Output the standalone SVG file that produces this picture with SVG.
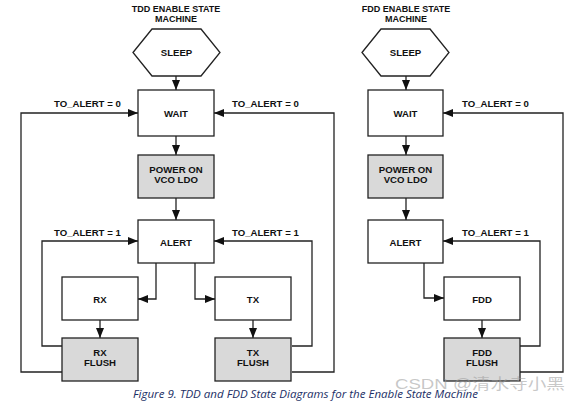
<svg xmlns="http://www.w3.org/2000/svg" width="581" height="405" viewBox="0 0 581 405">
<style>
.b{fill:#fff;stroke:#222;stroke-width:1.3}
.g{fill:#d9d9d9;stroke:#222;stroke-width:1.3}
.t{font-family:"Liberation Sans",Arial,sans-serif;font-weight:bold;font-size:9.6px;fill:#111;text-anchor:middle}
.h{font-family:"Liberation Sans",Arial,sans-serif;font-weight:bold;font-size:9px;fill:#111;text-anchor:middle}
.l{font-family:"Liberation Sans",Arial,sans-serif;font-weight:bold;font-size:9.6px;fill:#111}
.c{fill:none;stroke:#222;stroke-width:1.3}
</style>
<defs>
<marker id="a" viewBox="0 0 10 8" refX="10" refY="4" markerWidth="10" markerHeight="8" markerUnits="userSpaceOnUse" orient="auto">
<path d="M0,0L10,4L0,8z" fill="#111"/>
</marker>
</defs>
<text class="h" x="176" y="12">TDD ENABLE STATE</text>
<text class="h" x="176" y="21.5">MACHINE</text>
<text class="h" x="406" y="12">FDD ENABLE STATE</text>
<text class="h" x="406" y="21.5">MACHINE</text>
<g id="connectors">
<path class="c" d="M176,76V90" marker-end="url(#a)"/>
<path class="c" d="M176,136V155" marker-end="url(#a)"/>
<path class="c" d="M176,198V220" marker-end="url(#a)"/>
<path class="c" d="M62,372H21V113H138" marker-end="url(#a)"/>
<path class="c" d="M292,372H334V113H214" marker-end="url(#a)"/>
<path class="c" d="M62,346H42V241H138" marker-end="url(#a)"/>
<path class="c" d="M292,346H312V241H214" marker-end="url(#a)"/>
<path class="c" d="M156,263V299H138" marker-end="url(#a)"/>
<path class="c" d="M195,263V299H215" marker-end="url(#a)"/>
<path class="c" d="M100,320V338" marker-end="url(#a)"/>
<path class="c" d="M253,320V338" marker-end="url(#a)"/>
<path class="c" d="M406,76V90" marker-end="url(#a)"/>
<path class="c" d="M406,136V155" marker-end="url(#a)"/>
<path class="c" d="M406,198V220" marker-end="url(#a)"/>
<path class="c" d="M520,372H563V113H443" marker-end="url(#a)"/>
<path class="c" d="M520,346H540V241H443" marker-end="url(#a)"/>
<path class="c" d="M424,263V298H444" marker-end="url(#a)"/>
<path class="c" d="M482,320V338" marker-end="url(#a)"/>
<text class="l" x="54" y="107">TO_ALERT = 0</text>
<text class="l" x="232" y="107">TO_ALERT = 0</text>
<text class="l" x="54" y="236">TO_ALERT = 1</text>
<text class="l" x="232" y="236">TO_ALERT = 1</text>
<text class="l" x="462" y="107">TO_ALERT = 0</text>
<text class="l" x="462" y="236">TO_ALERT = 1</text>
</g>
<g id="tdd-sleep"><path class="b" d="M133,52.5L152,29H201L220,52.5L201,76H152z"/><text class="t" x="176.5" y="56">SLEEP</text></g>
<g id="tdd-wait"><rect class="b" x="138" y="90" width="76" height="46"/><text class="t" x="176" y="117">WAIT</text></g>
<g id="tdd-power"><rect class="g" x="138" y="155" width="76" height="43"/><text class="t" x="176" y="173">POWER ON</text><text class="t" x="176" y="183">VCO LDO</text></g>
<g id="tdd-alert"><rect class="b" x="138" y="220" width="76" height="43"/><text class="t" x="176" y="246">ALERT</text></g>
<g id="tdd-rx"><rect class="b" x="62" y="277" width="76" height="43"/><text class="t" x="100" y="303">RX</text></g>
<g id="tdd-tx"><rect class="b" x="215" y="277" width="76" height="43"/><text class="t" x="253" y="303">TX</text></g>
<g id="tdd-rxflush"><rect class="g" x="62" y="338" width="76" height="43"/><text class="t" x="100" y="356">RX</text><text class="t" x="100" y="366">FLUSH</text></g>
<g id="tdd-txflush"><rect class="g" x="215" y="338" width="76" height="43"/><text class="t" x="253" y="356">TX</text><text class="t" x="253" y="366">FLUSH</text></g>
<g id="fdd-sleep"><path class="b" d="M362,52.5L381,29H430L449,52.5L430,76H381z"/><text class="t" x="405.5" y="56">SLEEP</text></g>
<g id="fdd-wait"><rect class="b" x="368" y="90" width="75" height="46"/><text class="t" x="405.5" y="117">WAIT</text></g>
<g id="fdd-power"><rect class="g" x="368" y="155" width="75" height="43"/><text class="t" x="405.5" y="173">POWER ON</text><text class="t" x="405.5" y="183">VCO LDO</text></g>
<g id="fdd-alert"><rect class="b" x="368" y="220" width="75" height="43"/><text class="t" x="405.5" y="246">ALERT</text></g>
<g id="fdd-fdd"><rect class="b" x="444" y="277" width="76" height="43"/><text class="t" x="482" y="303">FDD</text></g>
<g id="fdd-flush"><rect class="g" x="444" y="338" width="76" height="43"/><text class="t" x="482" y="356">FDD</text><text class="t" x="482" y="366">FLUSH</text></g>
<text x="133" y="398" font-family="'Open Sans','Liberation Sans',sans-serif" font-style="italic" font-size="10.5" fill="#1c2f66" textLength="345" lengthAdjust="spacingAndGlyphs">Figure 9. TDD and FDD State Diagrams for the Enable State Machine</text>
<text x="395" y="389" font-family="'Liberation Sans','Noto Sans CJK SC',sans-serif" font-size="15" fill="#999" fill-opacity="0.55" textLength="170" lengthAdjust="spacingAndGlyphs">CSDN @清水寺小黑</text>
</svg>
